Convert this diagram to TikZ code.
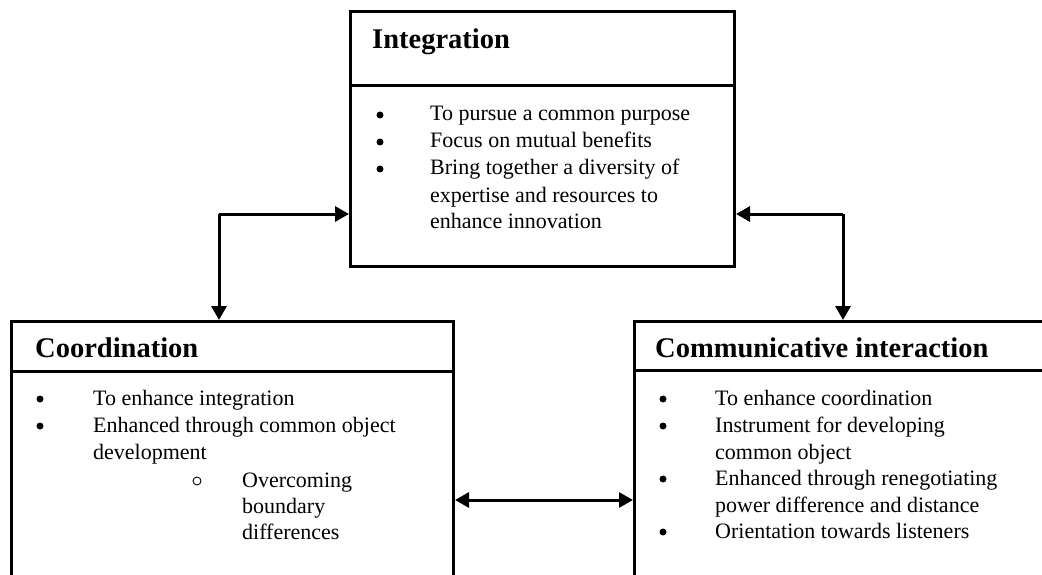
\documentclass[tikz,border=0pt]{standalone}
\usepackage{fontspec}
\setmainfont{Liberation Serif}
\usetikzlibrary{arrows.meta}

\begin{document}
\begin{tikzpicture}[x=1pt,y=-1pt,
  frame/.style={draw=black,line width=3pt,fill=none,inner sep=0pt,anchor=north west},
  rule/.style={draw=black,line width=3pt},
  conn/.style={draw=black,line width=3pt,-{Triangle[length=14pt,width=15pt]}},
  title/.style={anchor=base west,inner sep=0pt,font=\fontsize{28.5}{32}\selectfont\bfseries},
  txt/.style={anchor=base west,inner sep=0pt,font=\fontsize{22}{26}\selectfont},
  dot/.style={circle,fill=black,inner sep=0pt,minimum size=7pt},
  ring/.style={circle,draw=black,line width=0.9pt,inner sep=0pt,minimum size=8pt}]
\useasboundingbox (0,0) rectangle (1042,575);
\fill[white] (0,0) rectangle (1042,575);

\begin{scope}
\clip (0,0) rectangle (1042,575);
% the three frames (the lower two run past the page edge)
\node[frame,minimum width=384pt,minimum height=255pt] (integ) at (349,10) {};
\node[frame,minimum width=442pt,minimum height=256pt] (coord) at (10,320) {};
\node[frame,minimum width=440pt,minimum height=256pt] (comm) at (633,320) {};
\draw[rule] (integ.west |- 0,86) -- (integ.east |- 0,86);
\draw[rule] (coord.west |- 0,371) -- (coord.east |- 0,371);
\draw[rule] (comm.west |- 0,370) -- (comm.east |- 0,370);
\end{scope}

% Integration
\node[title] (t1) at (372,49) {Integration};
\node[dot] (b11) at (380,115) {};
\node[dot] (b12) at (380,142) {};
\node[dot] (b13) at (380,169) {};
\node[txt] (i1) at (430,121) {To pursue a common purpose};
\node[txt] (i2) at (430,148) {Focus on mutual benefits};
\node[txt] (i3) at (430,175) {Bring together a diversity of};
\node[txt] (i4) at (430,202) {expertise and resources to};
\node[txt] (i5) at (430,229) {enhance innovation};

% Coordination
\node[title] (t2) at (35,357) {Coordination};
\node[dot] (b21) at (40,399) {};
\node[dot] (b22) at (40,426) {};
\node[ring] (r21) at (197,481) {};
\node[txt] (c1) at (93,405) {To enhance integration};
\node[txt] (c2) at (93,432) {Enhanced through common object};
\node[txt] (c3) at (93,459) {development};
\node[txt] (c4) at (242,487) {Overcoming};
\node[txt] (c5) at (242,513) {boundary};
\node[txt] (c6) at (242,539) {differences};

% Communicative interaction
\node[title] (t3) at (655,357) {Communicative interaction};
\node[dot] (b31) at (663,399) {};
\node[dot] (b32) at (663,426) {};
\node[dot] (b33) at (663,479) {};
\node[dot] (b34) at (663,532) {};
\node[txt] (m1) at (715,405) {To enhance coordination};
\node[txt] (m2) at (715,432) {Instrument for developing};
\node[txt] (m3) at (715,459) {common object};
\node[txt] (m4) at (715,485) {Enhanced through renegotiating};
\node[txt] (m5) at (715,512) {power difference and distance};
\node[txt] (m6) at (715,538) {Orientation towards listeners};

% connectors
\coordinate (lk) at (219,214);
\coordinate (rk) at (843,214);
\draw[conn] (lk) -- (integ.west |- lk);
\draw[conn] (lk) -- (coord.north -| lk);
\draw[conn] (rk) -- (integ.east |- rk);
\draw[conn] (rk) -- (comm.north -| rk);
\coordinate (mk) at (540,500);
\draw[conn] (mk) -- (coord.east |- mk);
\draw[conn] (mk) -- (comm.west |- mk);
\end{tikzpicture}
\end{document}
